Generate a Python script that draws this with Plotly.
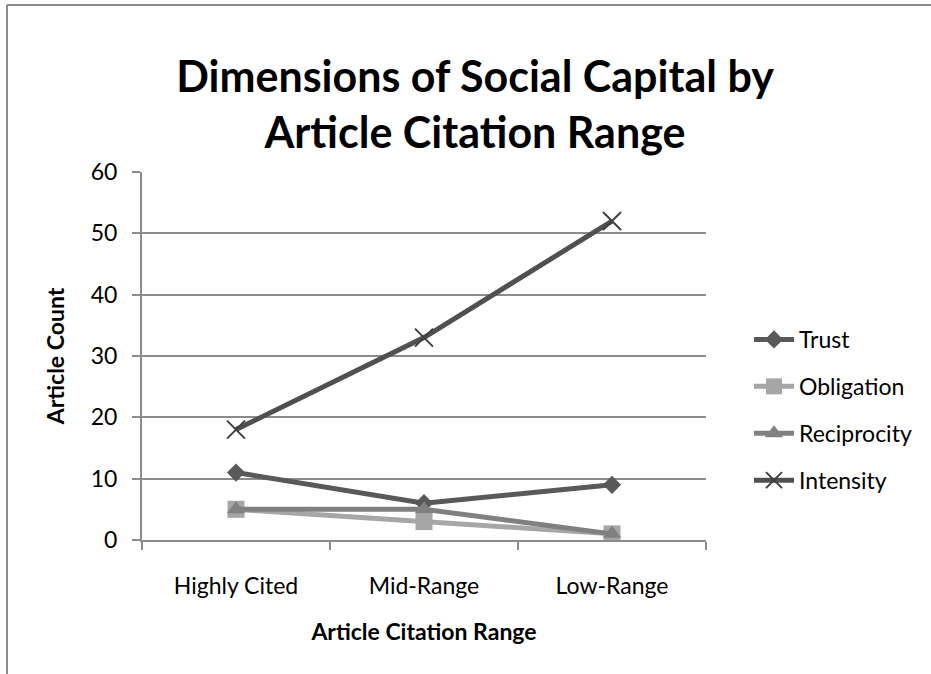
import plotly.graph_objects as go

# Citation-range categories and article counts per social-capital dimension
categories = ["Highly Cited", "Mid-Range", "Low-Range"]
trust = [11, 6, 9]
obligation = [5, 3, 1]
reciprocity = [5, 5, 1]
intensity = [18, 33, 52]
y_ticks = [0, 10, 20, 30, 40, 50, 60]

FONT = "Lato"
W, H = 931, 674
L, R, T, B = 142, 225, 172, 134

series = [
    ("Trust", trust, "#595959", dict(symbol="diamond", size=14, color="#595959")),
    ("Obligation", obligation, "#a6a6a6", dict(symbol="square", size=17, color="#a6a6a6")),
    ("Reciprocity", reciprocity, "#808080", dict(symbol="triangle-up", size=16, color="#808080")),
    ("Intensity", intensity, "#505050",
     dict(symbol="x-thin", size=18, color="#404040", line=dict(width=2, color="#404040"))),
]

fig = go.Figure()
for i, (name, vals, color, marker) in enumerate(series):
    fig.add_trace(go.Scatter(
        x=categories, y=vals, name=name, mode="lines+markers",
        line=dict(color=color, width=5), marker=marker,
        legendgroup=f"g{i}",
    ))

# outer chart frame (top and left edges visible)
pw, ph = W - L - R, H - T - B
def px_x(v):
    return (v - L) / pw
def px_y(v):
    return (H - B - v) / ph

fig.add_shape(type="line", xref="paper", yref="paper",
              x0=px_x(7), x1=px_x(W + 5), y0=px_y(5), y1=px_y(5),
              line=dict(color="#8c8c8c", width=2))
fig.add_shape(type="line", xref="paper", yref="paper",
              x0=px_x(7), x1=px_x(7), y0=px_y(5), y1=px_y(H + 5),
              line=dict(color="#8c8c8c", width=2))

fig.update_layout(
    width=W, height=H,
    margin=dict(l=L, r=R, t=T, b=B),
    paper_bgcolor="white", plot_bgcolor="white",
    font=dict(family=FONT, color="#000000", size=23),
    title=dict(
        text="<b>Dimensions of Social Capital by<br>Article Citation Range</b>",
        x=475 / W, xanchor="center", xref="container",
        y=1 - 92 / H, yanchor="middle", yref="container",
        font=dict(family=FONT, size=43, color="#000000"),
    ),
    showlegend=True,
    legend=dict(
        x=px_x(749), xanchor="left", y=px_y(318), yanchor="top",
        font=dict(family=FONT, size=23, color="#000000"),
        tracegroupgap=14, itemwidth=40,
        bgcolor="rgba(0,0,0,0)",
    ),
)

fig.update_xaxes(
    type="category", tickson="boundaries", range=[-0.5, 2.5],
    showline=True, linecolor="#8c8c8c", linewidth=2,
    ticks="outside", ticklen=8, tickcolor="#8c8c8c", tickwidth=2,
    showgrid=False, ticklabelstandoff=24,
    tickfont=dict(family=FONT, size=23),
    title=dict(text="<b>Article Citation Range</b>", standoff=26,
               font=dict(family=FONT, size=23)),
)
fig.update_yaxes(
    range=[0, 60], tickvals=y_ticks,
    showline=True, linecolor="#8c8c8c", linewidth=2,
    ticks="outside", ticklen=8, tickcolor="#8c8c8c", tickwidth=2,
    showgrid=True, gridcolor="#8c8c8c", gridwidth=2,
    zeroline=False, ticklabelstandoff=10,
    tickfont=dict(family=FONT, size=23),
    title=dict(text="<b>Article Count</b>", standoff=20,
               font=dict(family=FONT, size=23)),
)

fig.write_html("out.html")
